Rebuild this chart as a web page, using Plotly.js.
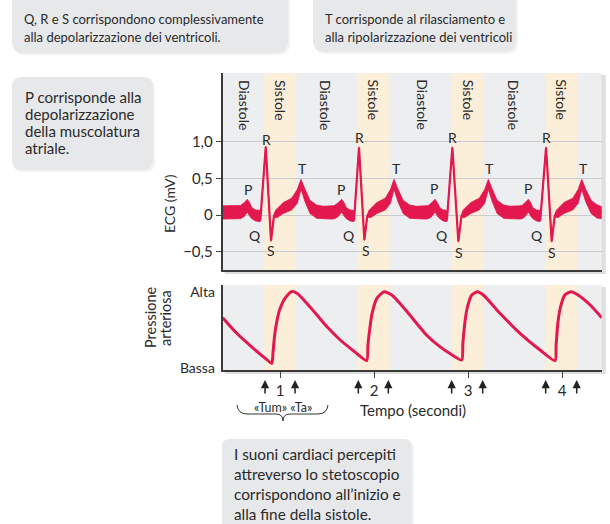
<!DOCTYPE html>
<html>
<head>
<meta charset="utf-8">
<script src="https://cdn.plot.ly/plotly-3.0.1.min.js"></script>
<style>html,body{margin:0;padding:0;background:#fff;}#chart{width:610px;height:524px;}</style>
</head>
<body>
<div id="chart"></div>
<script>
// ---------------- DATA ----------------
// ECG trace: time (s), upper and lower edge of the drawn red band (mV)
const ecgTime = [
  0.39,0.50,0.58,0.62,0.652,0.68,0.70,0.74,0.785,0.790,0.848,0.904,0.935,0.95,0.97,1.035,1.124,1.184,1.223,1.266,1.319,1.39,1.46,1.55,
  1.58,1.62,1.656,1.685,1.705,1.745,1.782,1.787,1.840,1.897,1.928,1.945,1.965,2.03,2.12,2.175,2.213,2.255,2.31,2.38,2.45,2.55,
  2.58,2.615,2.649,2.677,2.70,2.735,2.770,2.775,2.833,2.897,2.93,2.945,2.965,3.03,3.12,3.178,3.216,3.258,3.31,3.38,3.45,3.55,
  3.575,3.608,3.642,3.67,3.69,3.728,3.763,3.768,3.83,3.89,3.922,3.937,3.957,4.02,4.115,4.172,4.21,4.252,4.31,4.37,4.422
];
const ecgTop = [
  0.125,0.125,0.13,0.17,0.215,0.16,0.10,0.07,0.065,-0.06,0.94,-0.34,0.0,0.06,0.09,0.17,0.23,0.35,0.486,0.35,0.20,0.135,0.12,0.125,
  0.13,0.17,0.215,0.16,0.10,0.07,0.065,-0.06,0.93,-0.33,0.0,0.06,0.09,0.17,0.23,0.35,0.486,0.35,0.20,0.135,0.12,0.125,
  0.13,0.17,0.215,0.16,0.10,0.07,0.065,-0.06,0.93,-0.35,0.0,0.06,0.09,0.17,0.23,0.35,0.486,0.35,0.20,0.135,0.12,0.125,
  0.13,0.17,0.215,0.16,0.10,0.07,0.065,-0.06,0.93,-0.35,0.0,0.06,0.09,0.17,0.23,0.35,0.486,0.35,0.20,0.14,0.115
];
const ecgBottom = [
  -0.055,-0.055,-0.05,-0.02,0.04,-0.02,-0.05,-0.08,-0.09,-0.09,0.92,-0.36,-0.03,-0.03,-0.035,0.02,0.07,0.16,0.35,0.18,0.02,-0.045,-0.05,-0.055,
  -0.05,-0.02,0.04,-0.02,-0.05,-0.08,-0.09,-0.09,0.91,-0.35,-0.03,-0.03,-0.035,0.02,0.07,0.16,0.35,0.18,0.02,-0.045,-0.05,-0.055,
  -0.05,-0.02,0.04,-0.02,-0.05,-0.08,-0.09,-0.09,0.91,-0.37,-0.03,-0.03,-0.035,0.02,0.07,0.16,0.35,0.18,0.02,-0.045,-0.05,-0.055,
  -0.05,-0.02,0.04,-0.02,-0.05,-0.08,-0.09,-0.09,0.91,-0.37,-0.03,-0.03,-0.035,0.02,0.07,0.16,0.35,0.18,0.02,-0.04,-0.05
];
// Arterial pressure (0 = Bassa, 1 = Alta)
const pressTime = [
  0.39,0.54,0.716,0.85,0.912,0.925,0.94,0.957,0.99,1.05,1.12,1.18,1.32,1.50,1.64,1.78,1.922,
  1.935,1.955,1.98,2.03,2.106,2.19,2.35,2.56,2.70,2.82,2.933,
  2.945,2.965,2.99,3.04,3.10,3.163,3.34,3.553,3.766,3.926,
  3.937,3.955,3.98,4.03,4.10,4.17,4.30,4.422
];
const pressValue = [
  0.66,0.455,0.258,0.12,0.06,0.20,0.40,0.55,0.74,0.91,1.0,0.98,0.80,0.54,0.367,0.227,0.096,
  0.30,0.52,0.72,0.913,1.0,0.957,0.74,0.43,0.28,0.18,0.105,
  0.32,0.58,0.78,0.957,1.0,0.957,0.717,0.455,0.236,0.096,
  0.30,0.58,0.78,0.957,1.0,0.957,0.826,0.66
];
// Systole intervals and heart-sound arrows (s)
const systoleStart = [0.83, 1.83, 2.83, 3.83];
const systoleEnd   = [1.16, 2.16, 3.16, 4.16];
const soundTimes   = [0.84, 1.16, 1.833, 2.152, 2.826, 3.156, 3.826, 4.156];
// Phase label positions (s)
const diastoleLabelT = [0.617, 1.479, 2.507, 3.482];
const systoleLabelT  = [1.0, 1.993, 3.003, 3.986];
// Tick labels
const ecgTickVals = [-0.5, 0, 0.5, 1];
const ecgTickText = ['\u22120,5', '0', '0,5', '1,0'];
const timeTickVals = [1, 2, 3, 4];
const pressTickVals = [0, 1];
const pressTickText = ['Bassa', 'Alta'];
// Wave letters per beat
const waveLetters = ['P','Q','R','S','T'];

// ---------------- LAYOUT HELPERS ----------------
const W = 610, H = 524;
const fx = p => p / W;
const fy = p => 1 - p / H;
const RED = '#e2184f';
const TXT = '#2a2a2a';
const FONT = 'Lato, "Open Sans", sans-serif';

function pt(x, y) { return fx(x).toFixed(5) + ',' + fy(y).toFixed(5); }
function roundRect(x0, y0, x1, y1, r) {
  return 'M' + pt(x0 + r, y0) + ' L' + pt(x1 - r, y0) + ' Q' + pt(x1, y0) + ' ' + pt(x1, y0 + r) +
    ' L' + pt(x1, y1 - r) + ' Q' + pt(x1, y1) + ' ' + pt(x1 - r, y1) +
    ' L' + pt(x0 + r, y1) + ' Q' + pt(x0, y1) + ' ' + pt(x0, y1 - r) +
    ' L' + pt(x0, y0 + r) + ' Q' + pt(x0, y0) + ' ' + pt(x0 + r, y0) + ' Z';
}

// Panel geometry (px)
const PL = 222.7, PR = 601.7;
const ECG_T = 73, ECG_B = 270;
const PR_T = 285, PR_B = 370;

// ---------------- TRACES ----------------
const bandX = ecgTime.concat(ecgTime.slice().reverse());
const bandY = ecgTop.concat(ecgBottom.slice().reverse());
const ecgMid = ecgTop.map((v, i) => (v + ecgBottom[i]) / 2);

const traces = [
  { x: bandX, y: bandY, xaxis: 'x', yaxis: 'y', mode: 'lines', fill: 'toself',
    fillcolor: RED, line: { color: RED, width: 0.8 }, hoverinfo: 'skip', showlegend: false },
  { x: ecgTime, y: ecgMid, xaxis: 'x', yaxis: 'y', mode: 'lines',
    line: { color: RED, width: 2.2 }, hoverinfo: 'skip', showlegend: false },
  { x: pressTime, y: pressValue, xaxis: 'x2', yaxis: 'y2', mode: 'lines',
    line: { color: RED, width: 3, shape: 'spline', smoothing: 0.6 }, hoverinfo: 'skip', showlegend: false }
];

// ---------------- SHAPES ----------------
const shapes = [];
// text boxes (soft shadow + box)
const BOX = '#e7e8ea';
[[12, -20, 288, 53, 12], [313, -20, 516, 52, 12], [12, 77, 153, 170, 10], [222, 439, 412, 560, 8]].forEach(b => {
  shapes.push({ type: 'path', xref: 'paper', yref: 'paper', path: roundRect(b[0] + 1, b[1] + 2, b[2] + 2, b[3] + 2, b[4]),
    fillcolor: 'rgba(0,0,0,0.05)', line: { width: 0 }, layer: 'below' });
  shapes.push({ type: 'path', xref: 'paper', yref: 'paper', path: roundRect(b[0], b[1], b[2], b[3], b[4]),
    fillcolor: BOX, line: { width: 0 }, layer: 'below' });
});
// panel shadows and backgrounds
[[ECG_T, ECG_B], [PR_T, PR_B]].forEach(([t, b]) => {
  shapes.push({ type: 'rect', xref: 'paper', yref: 'paper', x0: fx(PL + 2), x1: fx(PR + 4), y0: fy(b + 4), y1: fy(t + 2),
    fillcolor: 'rgba(0,0,0,0.13)', line: { width: 0 }, layer: 'below' });
  shapes.push({ type: 'rect', xref: 'paper', yref: 'paper', x0: fx(PL), x1: fx(PR), y0: fy(b), y1: fy(t),
    fillcolor: '#eceef0', line: { width: 0 }, layer: 'below' });
});
// systole bands
systoleStart.forEach((s, i) => {
  shapes.push({ type: 'rect', xref: 'x', yref: 'y domain', x0: s, x1: systoleEnd[i], y0: 0, y1: 1,
    fillcolor: '#fcefd9', line: { width: 0 }, layer: 'below' });
  shapes.push({ type: 'rect', xref: 'x2', yref: 'y2 domain', x0: s, x1: systoleEnd[i], y0: 0, y1: 1,
    fillcolor: '#fcefd9', line: { width: 0 }, layer: 'below' });
});
// brace under «Tum» «Ta»
shapes.push({ type: 'path', xref: 'paper', yref: 'paper',
  path: 'M' + pt(237, 405) + ' Q' + pt(238, 414) + ' ' + pt(247, 414) + ' L' + pt(276, 414) +
        ' Q' + pt(283, 414) + ' ' + pt(283, 421) + ' Q' + pt(283, 414) + ' ' + pt(290, 414) +
        ' L' + pt(318, 414) + ' Q' + pt(327, 414) + ' ' + pt(328, 405),
  line: { color: '#333', width: 1 } });

// ---------------- ANNOTATIONS ----------------
const annotations = [];
function txt(text, x, y, opt) {
  opt = opt || {};
  annotations.push(Object.assign({
    text: text, xref: 'paper', yref: 'paper', x: fx(x), y: fy(y), showarrow: false,
    xanchor: 'center', yanchor: 'middle',
    font: { family: FONT, size: 14, color: TXT }
  }, opt));
}
// text boxes
const f1 = { family: FONT, size: 13, color: TXT };
txt('Q, R e S corrispondono complessivamente', 22, 18.5, { xanchor: 'left', font: f1 });
txt('alla depolarizzazione dei ventricoli.', 22, 36.5, { xanchor: 'left', font: f1 });
txt('T corrisponde al rilasciamento e', 323, 18.5, { xanchor: 'left', font: f1 });
txt('alla ripolarizzazione dei ventricoli', 323, 36.5, { xanchor: 'left', font: f1 });
const f3 = { family: FONT, size: 15, color: TXT };
['P corrisponde alla', 'depolarizzazione', 'della muscolatura', 'atriale.'].forEach((s, i) =>
  txt(s, 23, 96.5 + i * 17, { xanchor: 'left', font: f3 }));
const f4 = { family: FONT, size: 15.3, color: TXT };
['I suoni cardiaci percepiti', 'attreverso lo stetoscopio', 'corrispondono all\u2019inizio e', 'alla fine della sistole.'].forEach((s, i) =>
  txt(s, 232, 453.5 + i * 20.2, { xanchor: 'left', font: f4 }));

// phase labels
diastoleLabelT.forEach(t => annotations.push({ text: 'Diastole', xref: 'x', yref: 'paper', x: t, y: fy(105),
  showarrow: false, textangle: 90, xanchor: 'center', yanchor: 'middle', font: { family: FONT, size: 14, color: TXT } }));
systoleLabelT.forEach(t => annotations.push({ text: 'Sistole', xref: 'x', yref: 'paper', x: t, y: fy(100),
  showarrow: false, textangle: 90, xanchor: 'center', yanchor: 'middle', font: { family: FONT, size: 14, color: TXT } }));

// wave letters (pixel positions for each beat)
const letterPos = [
  [[248,189],[255,235],[266,139],[271,250],[302,168]],
  [[341,189],[349,235],[359,137],[366,250],[396,168]],
  [[434,188],[442,235],[452,137],[459,252],[489,168]],
  [[528,188],[537,235],[546,137],[552,252],[583,168]]
];
letterPos.forEach(beat => beat.forEach((p, j) =>
  txt(waveLetters[j], p[0], p[1], { font: { family: FONT, size: 14, color: TXT } })));

// axis titles
txt('ECG (mV)', 169, 204, { textangle: -90, font: { family: FONT, size: 14, color: TXT } });
txt('Pressione', 150, 317, { textangle: -90, font: { family: FONT, size: 14.5, color: TXT } });
txt('arteriosa', 165, 318, { textangle: -90, font: { family: FONT, size: 14.5, color: TXT } });
txt('\u00abTum\u00bb \u00abTa\u00bb', 283, 407, { font: { family: FONT, size: 12.5, color: TXT } });
txt('Tempo (secondi)', 413, 409.5, { font: { family: FONT, size: 15, color: TXT } });

// heart-sound arrows
soundTimes.forEach(t => annotations.push({ text: '', xref: 'x2', yref: 'paper', x: t, y: fy(380),
  showarrow: true, ax: 0, ay: 15, arrowhead: 2, arrowsize: 1.1, arrowwidth: 1.5, arrowcolor: '#222' }));

// ---------------- LAYOUT ----------------
const axisLine = { showline: true, linecolor: '#3a3a3a', linewidth: 2, zeroline: false };
const layout = {
  width: W, height: H,
  margin: { l: 0, r: 0, t: 0, b: 0 },
  paper_bgcolor: '#ffffff', plot_bgcolor: 'rgba(0,0,0,0)',
  showlegend: false,
  xaxis: Object.assign({ domain: [fx(PL), fx(PR)], range: [0.39, 4.422], anchor: 'y',
    showticklabels: false, ticks: '', showgrid: false }, axisLine),
  yaxis: Object.assign({ domain: [fy(ECG_B), fy(ECG_T)], range: [-0.749, 1.935], anchor: 'x',
    tickvals: ecgTickVals, ticktext: ecgTickText, ticks: 'outside', ticklen: 5, tickcolor: '#444', tickwidth: 1,
    showgrid: true, gridcolor: '#c9cbce', gridwidth: 1,
    tickfont: { family: FONT, size: 15, color: TXT } }, axisLine),
  xaxis2: Object.assign({ domain: [fx(PL), fx(PR)], range: [0.39, 4.422], anchor: 'y2',
    tickvals: timeTickVals, ticks: 'outside', ticklen: 6, tickcolor: '#444', tickwidth: 1, showgrid: false,
    tickfont: { family: FONT, size: 15, color: TXT } }, axisLine),
  yaxis2: Object.assign({ domain: [fy(PR_B), fy(PR_T)], range: [-0.026, 1.088], anchor: 'x2',
    tickvals: pressTickVals, ticktext: pressTickText, ticks: '', showgrid: false, ticklabelstandoff: 3,
    tickfont: { family: FONT, size: 14, color: TXT } }, axisLine),
  shapes: shapes,
  annotations: annotations
};

Plotly.newPlot('chart', traces, layout, { staticPlot: true, displayModeBar: false });
</script>
</body>
</html>
